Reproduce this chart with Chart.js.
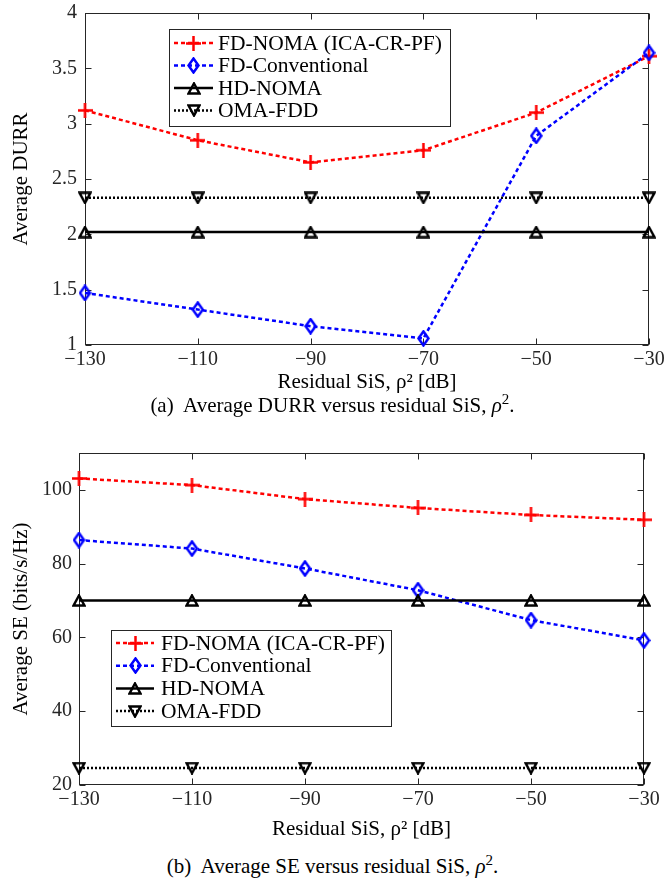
<!doctype html>
<html lang="en">
<head>
<meta charset="utf-8">
<title>Average DURR and SE versus residual SiS</title>
<script src="https://cdn.jsdelivr.net/npm/chart.js@4.4.1/dist/chart.umd.min.js"></script>
<style>
  body { margin: 0; background: #fff; font-family: 'Liberation Serif', 'DejaVu Serif', serif; }
  .page { position: relative; width: 665px; height: 888px; }
  canvas { position: absolute; left: 0; }
  #durrChart { top: 0; }
  #seChart { top: 440px; }
  .caption { position: absolute; left: 0; width: 665px; text-align: center; font-size: 21px; line-height: 24px; color: #000; }
  .caption sup { font-size: 15px; line-height: 0; }
</style>
</head>
<body>
<div class="page">
  <canvas id="durrChart" width="665" height="400"></canvas>
  <div class="caption" style="top: 393px">(a)&nbsp; Average DURR versus residual SiS, <i>ρ</i><sup>2</sup>.</div>
  <canvas id="seChart" width="665" height="410"></canvas>
  <div class="caption" style="top: 854px">(b)&nbsp; Average SE versus residual SiS, <i>ρ</i><sup>2</sup>.</div>
</div>

<script>
  // residual self-interference levels (dB)
  const rhoDb = [-130, -110, -90, -70, -50, -30];
  const durrTicks = [1, 1.5, 2, 2.5, 3, 3.5, 4];
  const seTicks = [20, 40, 60, 80, 100];
  const seriesNames = ['FD-NOMA (ICA-CR-PF)', 'FD-Conventional', 'HD-NOMA', 'OMA-FDD'];

  // average DURR
  const durrFdNoma = [3.12, 2.85, 2.65, 2.76, 3.10, 3.61];
  const durrFdConv = [1.47, 1.32, 1.17, 1.06, 2.89, 3.64];
  const durrHdNoma = [2.02, 2.02, 2.02, 2.02, 2.02, 2.02];
  const durrOmaFdd = [2.33, 2.33, 2.33, 2.33, 2.33, 2.33];

  // average SE (bits/s/Hz)
  const seFdNoma = [103.1, 101.3, 97.5, 95.1, 93.2, 91.9];
  const seFdConv = [86.4, 84.1, 78.7, 72.8, 64.7, 59.2];
  const seHdNoma = [70, 70, 70, 70, 70, 70];
  const seOmaFdd = [24.6, 24.6, 24.6, 24.6, 24.6, 24.6];

  const FONT = "'Liberation Serif', 'DejaVu Serif', serif";
  const AXIS = '#262626';

  // hollow matlab-like markers, drawn once and reused as pointStyle
  function marker(w, h, color, path) {
    const c = document.createElement('canvas');
    c.width = w; c.height = h;
    const g = c.getContext('2d');
    g.strokeStyle = color;
    g.lineWidth = 2.5;
    g.beginPath();
    path(g, w, h);
    g.stroke();
    return c;
  }
  const plusMark = marker(15, 15, '#ff0000', (g, w, h) => {
    g.moveTo(w / 2, 0); g.lineTo(w / 2, h);
    g.moveTo(0, h / 2); g.lineTo(w, h / 2);
  });
  const diamondMark = marker(13, 17, '#0000ff', (g, w, h) => {
    g.moveTo(w / 2, 1.5); g.lineTo(w - 1.5, h / 2); g.lineTo(w / 2, h - 1.5); g.lineTo(1.5, h / 2); g.closePath();
  });
  const upMark = marker(14, 13, '#000', (g, w, h) => {
    g.moveTo(w / 2, 1.5); g.lineTo(w - 1.5, h - 1.5); g.lineTo(1.5, h - 1.5); g.closePath();
  });
  const downMark = marker(14, 13, '#000', (g, w, h) => {
    g.moveTo(1.5, 1.5); g.lineTo(w - 1.5, 1.5); g.lineTo(w / 2, h - 1.5); g.closePath();
  });

  function series(label, values, color, dash, point, order) {
    return {
      label,
      data: rhoDb.map((x, i) => ({ x, y: values[i] })),
      borderColor: color,
      borderWidth: 2.5,
      borderDash: dash,
      pointStyle: point,
      pointRadius: 7,
      tension: 0,
      fill: false,
      clip: false,
      order
    };
  }

  function datasetsFor(fdNoma, fdConv, hdNoma, omaFdd) {
    return [
      series(seriesNames[0], fdNoma, '#ff0000', [4, 3], plusMark, 4),
      series(seriesNames[1], fdConv, '#0000ff', [4, 3], diamondMark, 3),
      series(seriesNames[2], hdNoma, '#000000', [], upMark, 2),
      series(seriesNames[3], omaFdd, '#000000', [2, 2], downMark, 1)
    ];
  }

  // full box around the plot with inward tick marks on all four sides
  const axesBox = {
    id: 'axesBox',
    beforeDatasetsDraw(chart) {
      const { ctx, chartArea: a, scales: { x, y } } = chart;
      const L = Math.round(a.left) + 0.5, R = Math.round(a.right) - 0.5;
      const T = Math.round(a.top) + 0.5, B = Math.round(a.bottom) - 0.5;
      const len = 6;
      ctx.save();
      ctx.strokeStyle = AXIS;
      ctx.lineWidth = 1;
      ctx.strokeRect(L, T, R - L, B - T);
      ctx.beginPath();
      x.ticks.forEach(t => {
        const px = Math.round(x.getPixelForValue(t.value)) + 0.5;
        ctx.moveTo(px, B); ctx.lineTo(px, B - len);
        ctx.moveTo(px, T); ctx.lineTo(px, T + len);
      });
      y.ticks.forEach(t => {
        const py = Math.round(y.getPixelForValue(t.value)) + 0.5;
        ctx.moveTo(L, py); ctx.lineTo(L + len, py);
        ctx.moveTo(R, py); ctx.lineTo(R - len, py);
      });
      ctx.stroke();
      ctx.restore();
    }
  };

  // boxed legend inside the plot: line sample, marker, label
  const boxLegend = {
    id: 'boxLegend',
    afterDraw(chart, args, o) {
      const ctx = chart.ctx;
      ctx.save();
      ctx.fillStyle = '#fff';
      ctx.fillRect(o.x, o.y, o.width, o.height);
      ctx.strokeStyle = AXIS;
      ctx.lineWidth = 1;
      ctx.strokeRect(o.x + 0.5, o.y + 0.5, o.width, o.height);
      ctx.font = '21.5px ' + FONT;
      ctx.textBaseline = 'middle';
      chart.data.datasets.forEach((ds, i) => {
        const cy = o.y + o.firstRow + i * o.rowGap;
        ctx.save();
        ctx.strokeStyle = ds.borderColor;
        ctx.lineWidth = ds.borderWidth;
        ctx.setLineDash(ds.borderDash);
        ctx.beginPath();
        ctx.moveTo(o.x + o.lineStart, cy);
        ctx.lineTo(o.x + o.lineEnd, cy);
        ctx.stroke();
        ctx.restore();
        const m = ds.pointStyle;
        const mx = o.x + (o.lineStart + o.lineEnd) / 2;
        ctx.drawImage(m, Math.round(mx - m.width / 2), Math.round(cy - m.height / 2));
        ctx.fillStyle = '#000';
        ctx.fillText(ds.label, o.x + o.textStart, cy + 1);
      });
      ctx.restore();
    }
  };

  const minus = v => (v < 0 ? '\u2212' + Math.abs(v) : String(v));

  function buildChart(id, datasets, c) {
    return new Chart(document.getElementById(id), {
      type: 'line',
      data: { datasets },
      options: {
        responsive: false,
        animation: false,
        devicePixelRatio: 1,
        layout: { padding: { left: 0, top: c.padTop, right: c.padRight, bottom: 0 } },
        plugins: {
          legend: { display: false },
          tooltip: { enabled: false },
          boxLegend: c.legend
        },
        scales: {
          x: {
            type: 'linear',
            min: rhoDb[0],
            max: rhoDb[rhoDb.length - 1],
            afterBuildTicks: s => { s.ticks = rhoDb.map(v => ({ value: v })); },
            afterFit: s => { s.height = c.xHeight; s.paddingLeft = 0; s.paddingRight = 0; },
            grid: { display: false, drawTicks: false },
            border: { display: false },
            ticks: {
              padding: 3,
              maxRotation: 0,
              autoSkip: false,
              color: AXIS,
              font: { family: FONT, size: 20 },
              callback: v => minus(v)
            },
            title: {
              display: true,
              text: 'Residual SiS, ρ² [dB]',
              color: '#000',
              font: { family: FONT, size: 21 },
              padding: { top: 0, bottom: c.xTitlePad }
            }
          },
          y: {
            type: 'linear',
            min: c.yTicks[0],
            max: c.yMax,
            afterBuildTicks: s => { s.ticks = c.yTicks.map(v => ({ value: v })); },
            afterFit: s => { s.width = c.yWidth; s.paddingTop = 0; s.paddingBottom = 0; },
            grid: { display: false, drawTicks: false },
            border: { display: false },
            ticks: {
              padding: c.yTickPad,
              autoSkip: false,
              color: AXIS,
              font: { family: FONT, size: 20 },
              callback: v => String(v)
            },
            title: {
              display: true,
              text: c.yTitle,
              color: '#000',
              font: { family: FONT, size: 21 },
              padding: { top: 9, bottom: 0 }
            }
          }
        }
      },
      plugins: [axesBox, boxLegend]
    });
  }

  buildChart('durrChart', datasetsFor(durrFdNoma, durrFdConv, durrHdNoma, durrOmaFdd), {
    padTop: 13, padRight: 16, xHeight: 55, xTitlePad: 5, yWidth: 85, yTickPad: 8,
    yTicks: durrTicks, yMax: 4, yTitle: 'Average DURR',
    legend: { x: 169, y: 29, width: 281, height: 97, firstRow: 14, rowGap: 22.5, lineStart: 5, lineEnd: 44, textStart: 49 }
  });

  buildChart('seChart', datasetsFor(seFdNoma, seFdConv, seHdNoma, seOmaFdd), {
    padTop: 13, padRight: 21, xHeight: 65, xTitlePad: 8, yWidth: 79, yTickPad: 7,
    yTicks: seTicks, yMax: 110, yTitle: 'Average SE (bits/s/Hz)',
    legend: { x: 111, y: 190, width: 280, height: 96, firstRow: 13, rowGap: 22.7, lineStart: 5, lineEnd: 43, textStart: 50 }
  });
</script>
</body>
</html>
